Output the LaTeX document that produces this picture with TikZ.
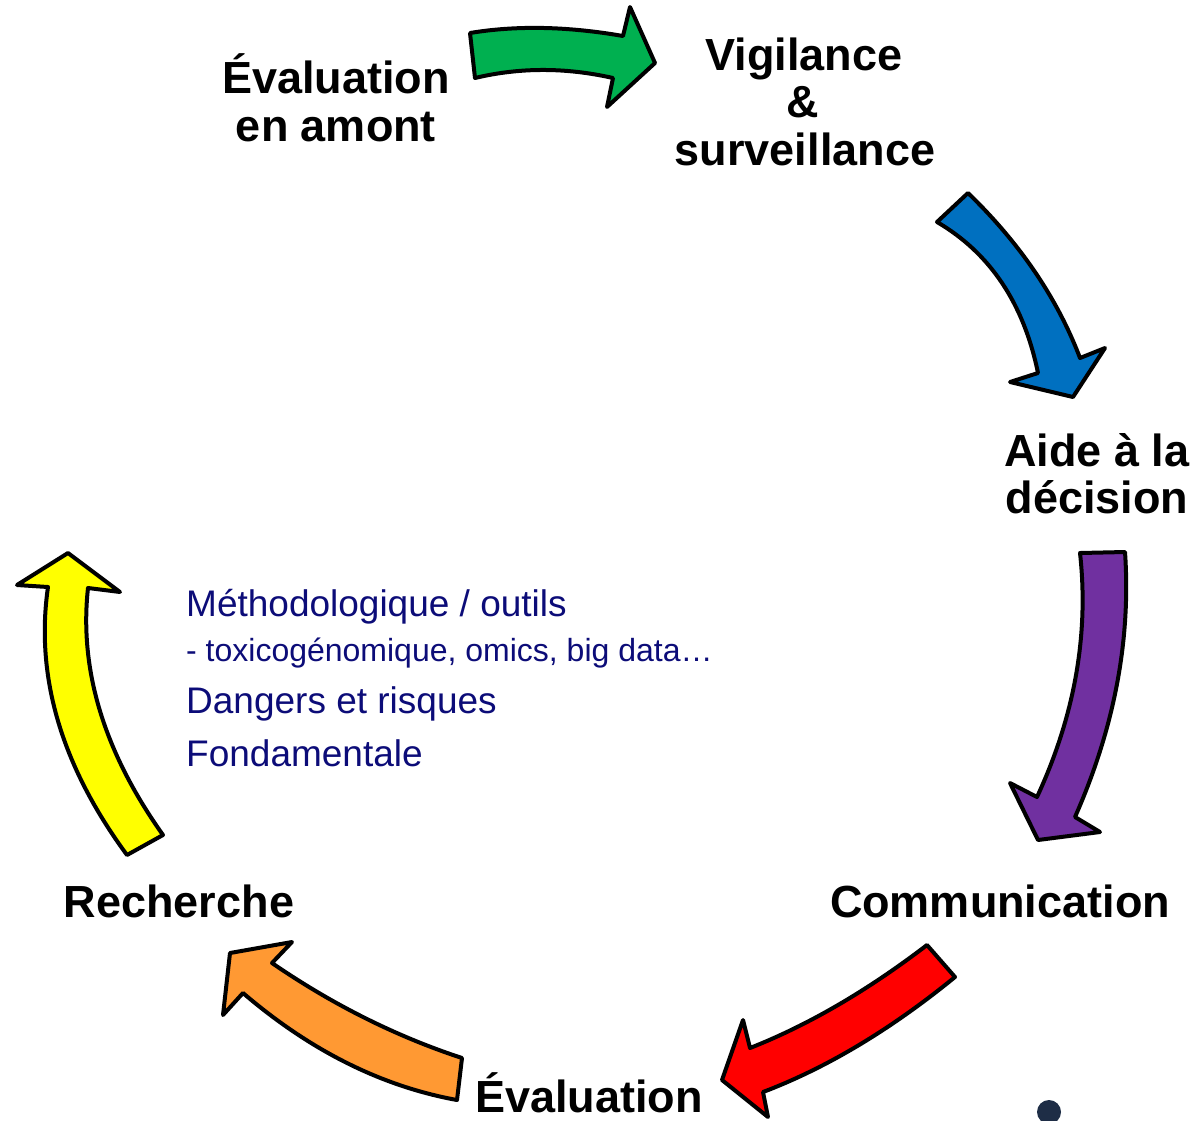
\documentclass[tikz,border=0pt]{standalone}
\usepackage{fontspec}
\setmainfont{Liberation Sans}
\usetikzlibrary{positioning}

\definecolor{arrowG}{RGB}{0,176,80}
\definecolor{arrowB}{RGB}{0,112,192}
\definecolor{arrowP}{RGB}{112,48,160}
\definecolor{arrowR}{RGB}{255,0,0}
\definecolor{arrowO}{RGB}{255,153,51}
\definecolor{arrowY}{RGB}{255,255,0}
\definecolor{navytxt}{RGB}{12,12,120}
\definecolor{dotcol}{RGB}{30,45,70}

\begin{document}
\begin{tikzpicture}[x=1pt,y=-1pt]
  \tikzstyle{stage}=[font=\fontsize{45}{54}\selectfont\bfseries,anchor=base,inner sep=0pt]
  \tikzstyle{topic}=[font=\fontsize{37}{44}\selectfont,text=navytxt,anchor=base west,inner sep=0pt]
  \tikzstyle{subtopic}=[topic,font=\fontsize{32}{38}\selectfont]
  \tikzstyle{bigarrow}=[draw=black,line width=4pt,line join=round]

  \useasboundingbox (0,0) rectangle (1204,1120);

  % the six curved arrows of the cycle
  \draw[bigarrow,fill=arrowG] (470,33) .. controls (516.3,25.3) and (567.3,26.3) .. (623,36) -- (630,7) -- (655,63) -- (607,107) -- (613,78) .. controls (565.7,67.3) and (519.7,67.3) .. (475,78) -- cycle;
  \draw[bigarrow,fill=arrowB] (968,193) .. controls (1020,243.3) and (1057.3,298.3) .. (1080,358) -- (1105,348) -- (1073,397) -- (1010,382) -- (1038,373) .. controls (1023.7,303.3) and (990,253) .. (937,222) -- cycle;
  \draw[bigarrow,fill=arrowP] (1080,553) -- (1125,552) .. controls (1131,639.7) and (1114.3,728) .. (1075,817) -- (1100,832) -- (1038,840) -- (1010,783) -- (1037,797) .. controls (1074.7,715.7) and (1089,634.3) .. (1080,553) -- cycle;
  \draw[bigarrow,fill=arrowR] (927,945) -- (955,977) .. controls (891,1029.3) and (827,1067.7) .. (763,1092) -- (768,1117) -- (722,1080) -- (743,1020) -- (750,1048) .. controls (808.3,1025) and (867.3,990.7) .. (927,945) -- cycle;
  \draw[bigarrow,fill=arrowO] (462,1058) -- (457,1100) .. controls (381.7,1086.3) and (310.3,1050.7) .. (243,993) -- (223,1015) -- (230,953) -- (292,942) -- (272,963) .. controls (332.7,1004.7) and (396,1036.3) .. (462,1058) -- cycle;
  \draw[bigarrow,fill=arrowY] (163,835) -- (127,855) .. controls (61.3,765.7) and (35,676.3) .. (48,587) -- (17,585) -- (68,553) -- (120,592) -- (88,588) .. controls (79,669.7) and (104,752) .. (163,835) -- cycle;

  % stages
  \node[stage] (amont1) at (336,93)  {Évaluation};
  \node[stage] (amont2) at (336,141) {en amont};
  \node[stage] (vigil1) at (804,70)  {Vigilance};
  \node[stage] (vigil2) at (803,117) {\&};
  \node[stage] (vigil3) at (805,165) {surveillance};
  \node[stage] (aide1)  at (1097,466) {Aide à la};
  \node[stage] (aide2)  at (1097,513) {décision};
  \node[stage] (comm)   at (1000,917) {Communication};
  \node[stage] (rech)   at (179,917)  {Recherche};
  \node[stage] (evalu)  at (589,1112) {Évaluation};

  % research topics
  \node[topic]    (methodo) at (186,616) {Méthodologique / outils};
  \node[subtopic] (toxico)  at (186,661) {- toxicogénomique, omics, big data…};
  \node[topic]    (dangers) at (186,713) {Dangers et risques};
  \node[topic]    (fonda)   at (186,766) {Fondamentale};

  \fill[dotcol] (1049,1112) circle (12);
\end{tikzpicture}
\end{document}
